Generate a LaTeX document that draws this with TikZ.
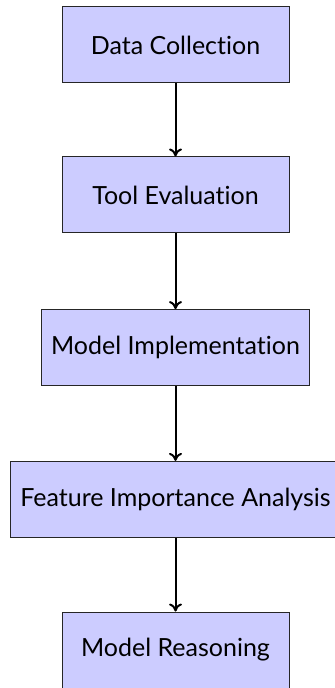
\documentclass[tikz,border=0pt]{standalone}
\usepackage{fontspec}
\setmainfont[Ligatures={NoCommon,NoRare}]{Lato}
\usetikzlibrary{arrows.meta}
\tikzset{
  stage/.style={draw=black!85, line width=0.5pt, fill=blue!20, minimum width=113.5pt,
    minimum height=38pt, inner xsep=5pt, font=\fontsize{12.5}{15}\selectfont},
  flow/.style={-{To[length=4pt,width=6.5pt]}, line width=1pt}
}
\begin{document}
\begin{tikzpicture}
  \useasboundingbox (0pt,0pt) rectangle (167.5pt,-344pt);
  \node[stage] (collect) at (87.75pt,-22.5pt) {Data Collection};
  \node[stage] (tools)   at (87.75pt,-97.5pt) {Tool Evaluation};
  \node[stage] (model)   at (87.75pt,-173.8pt) {Model Implementation};
  \node[stage] (feature) at (87.75pt,-249.7pt) {Feature Importance Analysis};
  \node[stage] (reason)  at (87.75pt,-325pt) {Model Reasoning};
  \draw[flow] (collect) -- (tools);
  \draw[flow] (tools) -- (model);
  \draw[flow] (model) -- (feature);
  \draw[flow] (feature) -- (reason);
\end{tikzpicture}
\end{document}
